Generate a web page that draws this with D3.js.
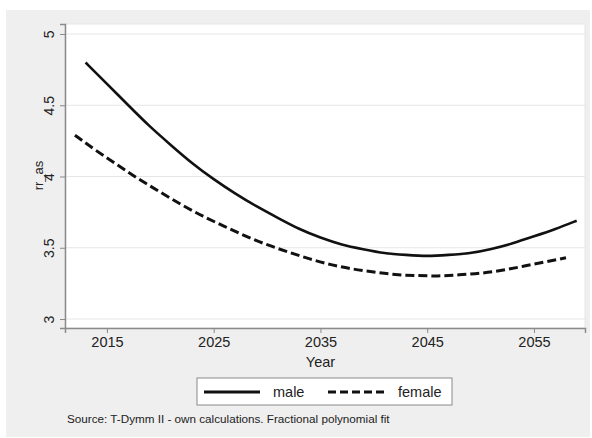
<!DOCTYPE html>
<html>
<head>
<meta charset="utf-8">
<script src="https://cdn.jsdelivr.net/npm/d3@7"></script>
<style>
  body { margin: 0; background: #fff; }
  text { font-family: "Liberation Sans", Arial, sans-serif; fill: #222; }
</style>
</head>
<body>
<div id="chart"></div>
<script>
// --- Datos ---
const maleYears = [2013, 2015, 2017, 2019, 2021, 2023, 2025, 2027, 2029, 2031, 2033, 2035,
                   2037, 2039, 2041, 2043, 2045, 2047, 2049, 2051, 2053, 2055, 2057, 2059];
const maleValues = [4.80, 4.65, 4.50, 4.35, 4.22, 4.09, 3.98, 3.88, 3.79, 3.71, 3.63, 3.57,
                    3.52, 3.49, 3.46, 3.45, 3.44, 3.45, 3.46, 3.49, 3.53, 3.58, 3.63, 3.69];
const femaleYears = [2012, 2014, 2016, 2018, 2020, 2022, 2024, 2026, 2028, 2030, 2032, 2034,
                     2036, 2038, 2040, 2042, 2044, 2046, 2048, 2050, 2052, 2054, 2056, 2058];
const femaleValues = [4.29, 4.18, 4.08, 3.98, 3.89, 3.80, 3.72, 3.65, 3.58, 3.52, 3.47, 3.42,
                      3.38, 3.35, 3.33, 3.31, 3.305, 3.30, 3.31, 3.32, 3.34, 3.37, 3.40, 3.43];
const xTicks = [2015, 2025, 2035, 2045, 2055];
const yTicks = [3, 3.5, 4, 4.5, 5];
const seriesNames = ["male", "female"];
const sourceNote = "Source: T-Dymm II - own calculations. Fractional polynomial fit";

// --- SVG ---
const width = 592, height = 438;
const svg = d3.select("#chart").append("svg")
    .attr("width", width)
    .attr("height", height);

// fondo gris
svg.append("rect")
    .attr("x", 6).attr("y", 10)
    .attr("width", 584).attr("height", 427)
    .attr("fill", "#efefef");

const plot = { left: 65, right: 585, top: 24, bottom: 328 };

svg.append("rect")
    .attr("x", plot.left).attr("y", plot.top)
    .attr("width", plot.right - plot.left).attr("height", plot.bottom - plot.top)
    .attr("fill", "#fff")
    .attr("stroke", "#e6e6e6");

// --- Escalas ---
const x = d3.scaleLinear().domain([2011.07, 2059.78]).range([plot.left, plot.right]);
const y = d3.scaleLinear().domain([2.937, 5.07]).range([plot.bottom, plot.top]);

// --- Rejilla ---
svg.append("g")
    .selectAll("line")
    .data(yTicks)
    .join("line")
    .attr("x1", plot.left).attr("x2", plot.right)
    .attr("y1", d => y(d)).attr("y2", d => y(d))
    .attr("stroke", "#e6e6e6")
    .attr("stroke-width", 1);

// --- Ejes ---
const xAxis = svg.append("g")
    .attr("transform", `translate(0,${plot.bottom})`)
    .call(d3.axisBottom(x).tickValues(xTicks).tickFormat(d3.format("d")).tickSize(5).tickPadding(4));
xAxis.select(".domain").attr("stroke", "#8a8a8a").attr("stroke-width", 1.5);
xAxis.selectAll(".tick line").attr("stroke", "#8a8a8a");
xAxis.selectAll(".tick text")
    .style("font-family", "'Liberation Sans', Arial, sans-serif")
    .style("font-size", "14.5px")
    .attr("fill", "#222");

const yAxis = svg.append("g")
    .attr("transform", `translate(${plot.left},0)`)
    .call(d3.axisLeft(y).tickValues(yTicks).tickFormat(d => String(d)).tickSize(5));
yAxis.select(".domain").attr("stroke", "#8a8a8a").attr("stroke-width", 1.5);
yAxis.selectAll(".tick line").attr("stroke", "#8a8a8a");
yAxis.selectAll(".tick text")
    .attr("x", null).attr("dy", null)
    .attr("transform", "translate(-11,0) rotate(-90)")
    .attr("text-anchor", "middle")
    .style("font-family", "'Liberation Sans', Arial, sans-serif")
    .style("font-size", "14px")
    .attr("fill", "#222");

// títulos de ejes
svg.append("text")
    .attr("x", (x(2035)))
    .attr("y", 367)
    .attr("text-anchor", "middle")
    .style("font-size", "14.5px")
    .text("Year");

svg.append("text")
    .attr("transform", `translate(43,${y(4) - 1}) rotate(-90)`)
    .attr("text-anchor", "middle")
    .style("font-size", "13px")
    .text("rr_as");

// --- Líneas ---
const line = d3.line()
    .x(d => x(d[0]))
    .y(d => y(d[1]))
    .curve(d3.curveBasis);

const male = maleYears.map((yr, i) => [yr, maleValues[i]]);
const female = femaleYears.map((yr, i) => [yr, femaleValues[i]]);

svg.append("path")
    .datum(male)
    .attr("d", line)
    .attr("fill", "none")
    .attr("stroke", "#111")
    .attr("stroke-width", 2.6);

svg.append("path")
    .datum(female)
    .attr("d", line)
    .attr("fill", "none")
    .attr("stroke", "#111")
    .attr("stroke-width", 3)
    .attr("stroke-dasharray", "9,4");

// --- Leyenda ---
const legend = svg.append("g");
legend.append("rect")
    .attr("x", 197).attr("y", 378)
    .attr("width", 255).attr("height", 27)
    .attr("fill", "#fff")
    .attr("stroke", "#8a8a8a");

const legendItems = [
    { name: seriesNames[0], x1: 204, x2: 260, tx: 273, dash: null, w: 3 },
    { name: seriesNames[1], x1: 328, x2: 387, tx: 398, dash: "8,4", w: 3 }
];
legendItems.forEach(it => {
    legend.append("line")
        .attr("x1", it.x1).attr("x2", it.x2)
        .attr("y1", 392).attr("y2", 392)
        .attr("stroke", "#111")
        .attr("stroke-width", it.w)
        .attr("stroke-dasharray", it.dash);
    legend.append("text")
        .attr("x", it.tx).attr("y", 397)
        .style("font-size", "14.5px")
        .text(it.name);
});

// --- Nota de fuente ---
svg.append("text")
    .attr("x", 67).attr("y", 423)
    .style("font-size", "11.7px")
    .text(sourceNote);
</script>
</body>
</html>
